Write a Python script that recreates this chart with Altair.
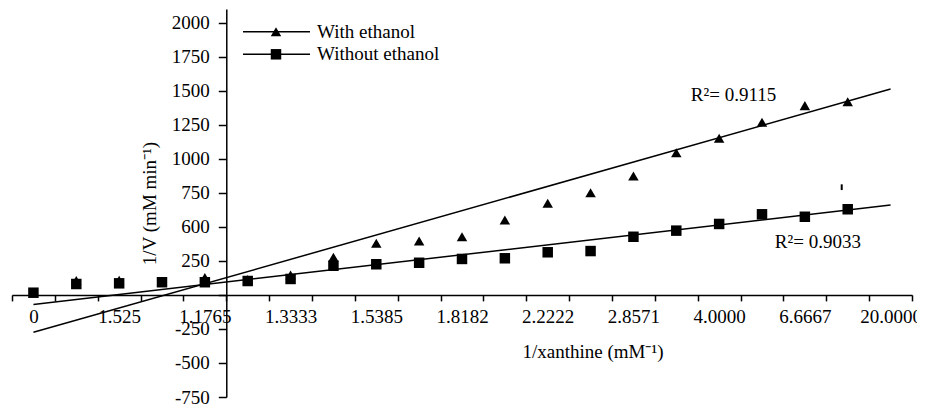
import altair as alt
import pandas as pd

# ---------------- data ----------------
series_names = ["With ethanol", "Without ethanol"]
series_shapes = ["triangle-up", "square"]
x_tick_labels = ["0", "1.525", "1.1765", "1.3333", "1.5385", "1.8182",
                 "2.2222", "2.8571", "4.0000", "6.6667", "20.0000"]
y_tick_values = [-750, -500, -250, 0, 250, 500, 750, 1000, 1250, 1500, 1750, 2000]

with_bands = list(range(1, 20))
with_vals = [106, 108, 100, 128, 112, 146, 276, 379, 396, 427, 550, 673,
             750, 873, 1044, 1150, 1268, 1390, 1419]
without_bands = list(range(0, 20))
without_vals = [16, 80, 85, 93, 93, 102, 117, 214, 225, 236, 264, 269,
                313, 322, 427, 472, 521, 592, 574, 629]

trend_bands = [0, 20]
trend_with = [-275, 1512]
trend_without = [-70, 660]

r2_texts = ["R\u00b2= 0.9115", "R\u00b2= 0.9033"]
r2_x = [15.84, 17.8]
r2_y = [1471, 389]

mark_x = [19.36]
mark_y = [770]
mark_y2 = [812]

# ---------------- layout / style ----------------
W, H = 900, 388
Y_MIN, Y_MAX = -750, 2100
N_BANDS = 21
FONT = "Liberation Serif"
FS = 19

pts = pd.DataFrame({
    "x": [b + 0.5 for b in without_bands] + [b + 0.5 for b in with_bands],
    "y": without_vals + with_vals,
    "series": [series_names[1]] * len(without_vals) + [series_names[0]] * len(with_vals),
})
trend = pd.DataFrame({
    "x": [b + 0.5 for b in trend_bands] * 2,
    "y": trend_with + trend_without,
    "series": [series_names[0]] * 2 + [series_names[1]] * 2,
})
r2 = pd.DataFrame({"x": r2_x, "y": r2_y, "t": r2_texts})
stray = pd.DataFrame({"x": mark_x, "y": mark_y, "y2": mark_y2})

label_map = []
for i in range(N_BANDS + 1):
    label_map.append(x_tick_labels[i // 2] if (i % 2 == 0 and i // 2 < len(x_tick_labels)) else "")
x_label_expr = "[" + ",".join("'%s'" % s for s in label_map) + "][datum.value]"

x_offset = -(H * (0 - Y_MIN) / (Y_MAX - Y_MIN))
y_offset = -(W * 5 / N_BANDS)

common_axis = dict(
    grid=False, labelFont=FONT, labelFontSize=FS, labelColor="black",
    titleFont=FONT, titleFontSize=FS, titleColor="black", titleFontWeight="normal",
    domainColor="black", tickColor="black", tickWidth=1.5, domainWidth=1.5,
    labelOverlap=False, labelFlush=False,
)

x_axis = alt.Axis(
    values=list(range(N_BANDS + 1)), labelExpr=x_label_expr,
    labelOffset=W / N_BANDS / 2, offset=x_offset,
    tickSize=6, labelPadding=7,
    title="1/xanthine (mM\u207b\u00b9)", titleX=510, titleY=57,
    titleAlign="left", titleBaseline="middle", **common_axis,
)
y_axis = alt.Axis(
    values=y_tick_values,
    labelExpr="datum.value == 500 ? '600' : (datum.value == 0 ? '' : '' + datum.value)",
    offset=y_offset, tickSize=8, labelPadding=9,
    title="1/V (mM min\u207b\u00b9)", titlePadding=12, **common_axis,
)

xs = alt.Scale(domain=[0, N_BANDS], nice=False, zero=False)
ys = alt.Scale(domain=[Y_MIN, Y_MAX], nice=False, zero=False)


def X():
    return alt.X("x:Q", scale=xs, axis=x_axis)


def Y():
    return alt.Y("y:Q", scale=ys, axis=y_axis)


lines = alt.Chart(trend).mark_line(color="black", strokeWidth=1.5).encode(
    x=X(), y=Y(), detail="series:N"
)

points = alt.Chart(pts).mark_point(filled=True, color="black", opacity=1, size=110).encode(
    x=X(), y=Y(),
    shape=alt.Shape("series:N", scale=alt.Scale(domain=series_names, range=series_shapes),
                    legend=None),
)

r2_layer = alt.Chart(r2).mark_text(align="left", baseline="middle", font=FONT,
                                   fontSize=FS, color="black").encode(
    x=X(), y=Y(), text="t:N"
)

stray_layer = alt.Chart(stray).mark_rule(color="black", strokeWidth=2).encode(
    x=X(), y=Y(), y2="y2:Q"
)

# ---------------- legend (line + marker + label), placed in pixels ----------------
LEG_X0, LEG_X1, LEG_MX, LEG_TX = 231, 298, 264, 305
LEG_ROWS = [22.7, 45.3]
legend_layers = []
for name, shape, ry in zip(series_names, series_shapes, LEG_ROWS):
    one = pd.DataFrame({"series": [name]})
    legend_layers.append(alt.Chart(one).mark_rule(color="black", strokeWidth=1.5).encode(
        x=alt.value(LEG_X0), x2=alt.value(LEG_X1), y=alt.value(ry)))
    legend_layers.append(alt.Chart(one).mark_point(
        shape=shape, filled=True, color="black", opacity=1, size=110).encode(
        x=alt.value(LEG_MX), y=alt.value(ry)))
    legend_layers.append(alt.Chart(one).mark_text(
        align="left", baseline="middle", font=FONT, fontSize=FS, color="black").encode(
        x=alt.value(LEG_TX), y=alt.value(ry), text="series:N"))

chart = alt.layer(lines, points, r2_layer, stray_layer, *legend_layers).properties(
    width=W, height=H,
    autosize=alt.AutoSizeParams(type="none"),
    padding={"left": 4, "top": 1, "right": 5, "bottom": 8},
).configure_view(stroke=None).configure_text(font=FONT)

chart.save("out.html", embed_options={"renderer": "svg", "actions": False})
